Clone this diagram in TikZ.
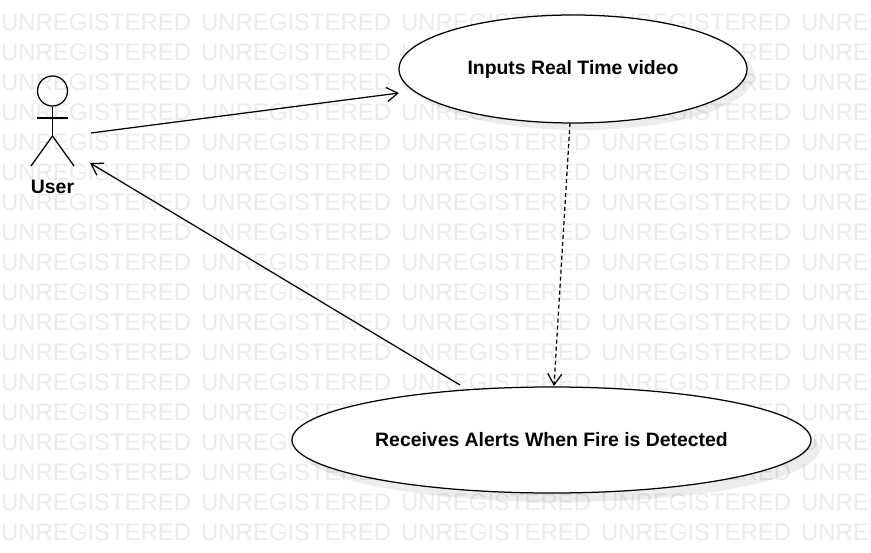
\documentclass[tikz,border=0pt]{standalone}
\usepackage{fontspec}
\setmainfont{Liberation Sans}
\usetikzlibrary{shapes.geometric,arrows.meta}
\definecolor{wm}{HTML}{EBEBEB}
\tikzset{
  x=1bp,y=-1bp,
  usecase/.style={ellipse,draw=black,fill=white,line width=1.25bp,inner sep=0,font=\fontsize{19.4bp}{22bp}\selectfont\bfseries},
  ushadow/.style={ellipse,fill=black,fill opacity=0.07,inner sep=0},
  watermark/.style={anchor=west,inner sep=0,text=wm,font=\fontsize{23.9bp}{26bp}\selectfont},
  link/.style={line width=1.25bp,-{Straight Barb[length=11bp,width=14bp,line width=1.25bp]}},
  dep/.style={link,dash pattern=on 4bp off 3bp},
  stick/.style={line width=1.25bp},
}
\begin{document}
\begin{tikzpicture}
\useasboundingbox (0,0) rectangle (871,553);
\fill[white] (0,0) rectangle (871,553);
\begin{scope}
\clip (0,0) rectangle (871,553);
\foreach \r in {0,...,17}{
  \foreach \c in {0,...,4}{
    \node[watermark] (wm\r-\c) at (\c*200+1,22+\r*30) {UNREGISTERED};
  }
}
\end{scope}
% shadows
\node[ushadow,minimum width=348bp,minimum height=108bp] (s1) at (580,76) {};
\node[ushadow,minimum width=519bp,minimum height=106bp] (s2) at (560,449) {};
% use cases
\node[usecase,minimum width=348bp,minimum height=108bp] (uc1) at (573,69) {Inputs Real Time video};
\node[usecase,minimum width=519bp,minimum height=106bp] (uc2) at (551.5,440) {Receives Alerts When Fire is Detected};
% actor
\node[circle,draw=black,line width=1.25bp,minimum size=30bp,inner sep=0] (head) at (52.5,91) {};
\coordinate (hip) at (52.5,136);
\coordinate (armL) at (37,118);
\coordinate (armR) at (68,118);
\coordinate (footL) at (31,166);
\coordinate (footR) at (74,166);
\draw[stick] (head.south) -- (hip);
\draw[stick] (armL) -- (armR);
\draw[stick] (footL) -- (hip) -- (footR);
\node[inner sep=0,font=\fontsize{19.4bp}{22bp}\selectfont\bfseries] (user) at (52.5,187) {User};
% connector ends
\coordinate (a1) at (91,133);
\coordinate (a2) at (399,93);
\coordinate (b1) at (460,385);
\coordinate (b2) at (90,163);
\coordinate (c1) at (570,123);
\coordinate (c2) at (554,386);
\draw[link] (a1) -- (a2);
\draw[link] (b1) -- (b2);
\draw[dep] (c1) -- (c2);
\end{tikzpicture}
\end{document}
